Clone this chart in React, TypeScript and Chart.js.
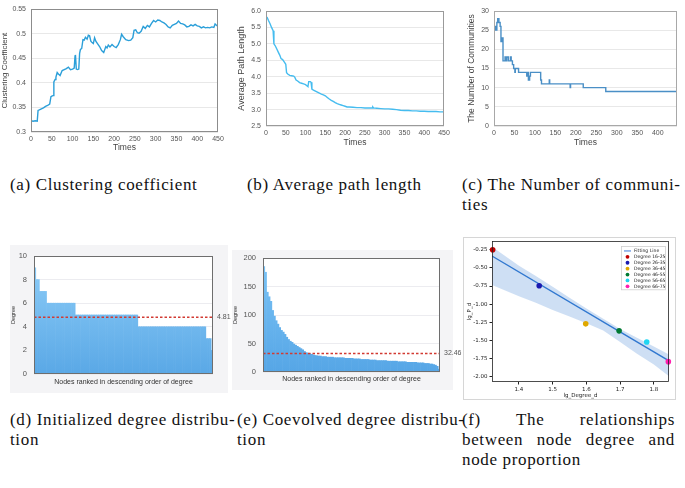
import React, { useEffect, useRef } from "react";
import { Chart, registerables } from "chart.js";
Chart.register(...registerables);

// ---------- DATA ----------
// (a) clustering coefficient
const timesA = [0,5,10,15,17,20,25,30,35,40,45,48,50,53,55,58,60,63,66,70,75,80,85,90,95,100,104,106,107,109,112,115,117,119,122,125,128,131,135,138,141,144,147,150,153,156,160,165,170,175,180,183,186,190,195,200,205,210,215,218,222,228,235,240,245,248,252,256,260,265,270,275,280,285,290,295,300,305,310,315,320,325,330,335,340,345,350,355,360,365,370,375,380,385,390,395,400,405,410,415,420,425,430,435,440,443,447,450];
const clusteringA = [0.323,0.322,0.323,0.322,0.344,0.345,0.347,0.349,0.352,0.354,0.357,0.372,0.373,0.374,0.402,0.407,0.412,0.421,0.418,0.415,0.425,0.427,0.429,0.432,0.427,0.428,0.43,0.455,0.457,0.428,0.427,0.428,0.46,0.468,0.47,0.488,0.487,0.493,0.489,0.497,0.496,0.485,0.482,0.48,0.492,0.485,0.48,0.474,0.466,0.462,0.474,0.471,0.477,0.473,0.478,0.474,0.472,0.478,0.488,0.499,0.494,0.488,0.486,0.487,0.492,0.507,0.508,0.502,0.501,0.505,0.515,0.511,0.517,0.514,0.521,0.527,0.524,0.528,0.527,0.524,0.522,0.519,0.514,0.512,0.517,0.519,0.521,0.526,0.521,0.52,0.518,0.514,0.515,0.518,0.516,0.519,0.516,0.515,0.512,0.514,0.512,0.513,0.512,0.514,0.513,0.52,0.517,0.515];
const yTicksA = [0.3,0.35,0.4,0.45,0.5,0.55];
const yLabelsA = ["0.3","0.35","0.4","0.45","0.5","0.55"];
const xTicksAB = [0,50,100,150,200,250,300,350,400,450];

// (b) average path length
const timesB = [0,3,6,10,14,18,20,23,27,31,35,38,42,46,50,52,55,60,65,70,73,76,80,85,90,95,100,104,106,108,112,114,116,120,125,130,135,140,145,150,155,160,165,170,175,180,185,190,195,200,205,210,220,230,240,250,260,268,270,272,280,290,300,310,320,330,340,350,360,370,380,390,400,410,420,430,440,450];
const pathLengthB = [5.82,5.80,5.72,5.62,5.50,5.40,5.0,4.95,4.85,4.75,4.65,4.55,4.52,4.45,4.38,4.12,4.08,4.04,4.03,4.02,3.98,3.9,3.87,3.82,3.8,3.78,3.76,3.72,3.70,3.85,3.85,3.83,3.62,3.59,3.56,3.53,3.5,3.47,3.45,3.42,3.37,3.32,3.28,3.25,3.21,3.18,3.16,3.14,3.12,3.1,3.08,3.08,3.07,3.06,3.06,3.05,3.05,3.05,3.08,3.05,3.04,3.03,3.02,3.02,3.01,3.0,2.98,2.97,2.97,2.96,2.96,2.95,2.95,2.94,2.94,2.94,2.93,2.93];
const yTicksB = [2.5,3.0,3.5,4.0,4.5,5.0,5.5,6.0];
const yLabelsB = ["2.5","3.0","3.5","4.0","4.5","5.0","5.5","6.0"];

// (c) number of communities (value starting at each time)
const timesC = [0,1,3,5,7,9,12,15,17,19,22,27,29,31,35,40,42,45,48,51,52,60,72,80,82,84,87,89,101,114,116,118,135,136,138,186,187,189,218,219,273,274,447];
const communitiesC = [25,26,25,26,25,27,28,27,26,22,23,17,18,17,18,17,18,17,16,15,14,15,14,14,13,14,12,13,14,14,12,11,11,12,11,11,10,11,11,10,10,9,9];
const yTicksC = [0,5,10,15,20,25,30];
const xTicksC = [0,50,100,150,200,250,300,350,400];

// (d) initialized degree distribution (runs of equal degree, nodes sorted descending)
const degreeLevelsD = [9,8,7,6,5,4,3,2];
const nodeCountsD = [1,2,4,16,35,38,3,1];
const meanD = 4.81;
const yTicksD = [0,2,4,6,8,10];

// (e) coevolved degree distribution (nodes sorted descending)
const degreesE = [185,175,140,132,124,108,98,90,84,78,
  73,70,66,61,57,54,52,49,47,45,
  43,41,39,36,34,33,32,31,30,29,
  28.5,28,28,27,27,27,26,26,26,26,
  25,25,25,25,25,25,24,24,24,24,
  24,23,23,23,23,22,22,22,22,22,
  21,21,21,21,20,20,20,20,20,20,
  19,19,19,19,19,19,18,18,18,18,
  18,17,17,17,17,17,17,16,16,16,
  16,15,15,15,14,14,13,12,10,5];
const meanE = 32.46;
const yTicksE = [0,50,100,150,200];

// (f) lg degree vs lg proportion
const groupLabelsF = ["Degree 16-25","Degree 26-35","Degree 36-45","Degree 46-55","Degree 56-65","Degree 66-75"];
const groupColorsF = ["#c00000","#1a1ab0","#e0a800","#007a33","#1fd6f2","#ff1fb0"];
const lgDegreeF = [1.322,1.460,1.598,1.697,1.779,1.843];
const lgPropF = [-0.25,-0.746,-1.27,-1.366,-1.52,-1.79];
const fitXF = [1.32,1.845];
const fitYF = [-0.337,-1.78];
const bandXF = [1.32,1.40,1.45,1.50,1.55,1.60,1.65,1.70,1.75,1.80,1.845];
const bandUpperF = [-0.21,-0.47,-0.61,-0.76,-0.91,-1.06,-1.20,-1.34,-1.46,-1.58,-1.69];
const bandLowerF = [-0.735,-0.89,-0.98,-1.08,-1.17,-1.26,-1.36,-1.52,-1.68,-1.83,-1.99];
const xTicksF = [1.4,1.5,1.6,1.7,1.8];
const yTicksF = [-0.25,-0.5,-0.75,-1.0,-1.25,-1.5,-1.75,-2.0];
const yLabelsF = ["-0.25","-0.50","-0.75","-1.00","-1.25","-1.50","-1.75","-2.00"];

// ---------- PLUGINS ----------
const framePlugin = {
  id: "frame",
  beforeDraw(chart: any, _a: any, opts: any) {
    const { ctx, chartArea: a } = chart;
    if (opts.plotBg) {
      ctx.save();
      ctx.fillStyle = opts.plotBg;
      ctx.fillRect(a.left, a.top, a.right - a.left, a.bottom - a.top);
      ctx.restore();
    }
  },
  afterDraw(chart: any, _a: any, opts: any) {
    if (!opts.color) return;
    const { ctx, chartArea: a } = chart;
    ctx.save();
    ctx.strokeStyle = opts.color;
    ctx.lineWidth = opts.width || 1;
    ctx.strokeRect(Math.round(a.left) + 0.5, Math.round(a.top) + 0.5, Math.round(a.right - a.left) - 1, Math.round(a.bottom - a.top) - 1);
    ctx.restore();
  },
};

const meanLinePlugin = {
  id: "meanLine",
  afterDatasetsDraw(chart: any, _a: any, opts: any) {
    if (opts.value === undefined) return;
    const { ctx, chartArea: a } = chart;
    const y = chart.scales.y.getPixelForValue(opts.value);
    ctx.save();
    ctx.strokeStyle = "#d23a32";
    ctx.lineWidth = 1.4;
    ctx.setLineDash([2.5, 2]);
    ctx.beginPath();
    ctx.moveTo(a.left, y);
    ctx.lineTo(a.right, y);
    ctx.stroke();
    ctx.setLineDash([]);
    ctx.fillStyle = "#555";
    ctx.font = "7px 'Liberation Sans', Arial, sans-serif";
    ctx.textBaseline = "middle";
    ctx.textAlign = "left";
    ctx.fillText(opts.label, a.right + 4, y);
    ctx.restore();
  },
};

const legendFPlugin = {
  id: "legendF",
  afterDraw(chart: any, _a: any, opts: any) {
    if (!opts.items) return;
    const { ctx, chartArea: a } = chart;
    const items = opts.items;
    const w = 45, lh = 5.9;
    const h = items.length * lh + 3;
    const x0 = a.right - w - 3, y0 = a.top + 5;
    ctx.save();
    ctx.fillStyle = "rgba(255,255,255,0.9)";
    ctx.strokeStyle = "#cfcfcf";
    ctx.lineWidth = 0.8;
    ctx.fillRect(x0, y0, w, h);
    ctx.strokeRect(x0 + 0.5, y0 + 0.5, w - 1, h - 1);
    ctx.font = "4.6px 'DejaVu Sans', sans-serif";
    ctx.textBaseline = "middle";
    ctx.fillStyle = "#222";
    items.forEach((it: any, i: number) => {
      const cy = y0 + 2 + lh * (i + 0.5);
      if (it.kind === "line") {
        ctx.strokeStyle = it.color;
        ctx.lineWidth = 1.2;
        ctx.beginPath();
        ctx.moveTo(x0 + 3, cy);
        ctx.lineTo(x0 + 10, cy);
        ctx.stroke();
      } else {
        ctx.fillStyle = it.color;
        ctx.beginPath();
        ctx.arc(x0 + 6.5, cy, 1.9, 0, Math.PI * 2);
        ctx.fill();
      }
      ctx.fillStyle = "#222";
      ctx.fillText(it.label, x0 + 13, cy);
    });
    ctx.restore();
  },
};

// ---------- HELPERS ----------
const sans = "'Liberation Sans', Arial, Helvetica, sans-serif";
const tickFont = { family: sans, size: 7 };

function fixedTicks(values: number[]) {
  return (s: any) => {
    s.ticks = values.map((v) => ({ value: v }));
  };
}

function barGradient(top: string, bottom: string) {
  return (c: any) => {
    const ch = c.chart;
    const a = ch.chartArea;
    if (!a) return bottom;
    const g = ch.ctx.createLinearGradient(0, a.top, 0, a.bottom);
    g.addColorStop(0, top);
    g.addColorStop(1, bottom);
    return g;
  };
}

function baseOptions(pad: any) {
  return {
    animation: false,
    responsive: false,
    events: [],
    layout: { padding: pad },
  };
}

function timeLineConfig(opts: {
  times: number[]; values: number[]; color: string; yTicks: number[]; yLabels: string[];
  yMin: number; yMax: number; xMax: number; xTicks: number[]; yTitle: string; yTitleSize: number;
  yW: number; xH: number; pad: any; xTitlePad: number; yTitlePad: number; stepped?: any; frame: string; xTickPad: number;
}) {
  return {
    type: "line",
    data: {
      datasets: [
        {
          data: opts.times.map((t, i) => ({ x: t, y: opts.values[i] })),
          borderColor: opts.color,
          borderWidth: 1.4,
          pointRadius: 0,
          tension: 0,
          stepped: opts.stepped || false,
          fill: false,
        },
      ],
    },
    options: {
      ...baseOptions(opts.pad),
      plugins: { legend: { display: false }, tooltip: { enabled: false }, frame: { color: opts.frame } },
      scales: {
        x: {
          type: "linear",
          min: 0,
          max: opts.xMax,
          afterBuildTicks: fixedTicks(opts.xTicks),
          ticks: { font: tickFont, color: "#555", padding: opts.xTickPad, maxRotation: 0, autoSkip: false },
          grid: { display: false, drawTicks: false },
          border: { display: false },
          title: { display: true, text: "Times", font: { family: sans, size: 8.5 }, color: "#444", padding: { top: 0, bottom: opts.xTitlePad } },
          afterFit: (s: any) => { s.height = opts.xH; },
        },
        y: {
          min: opts.yMin,
          max: opts.yMax,
          afterBuildTicks: fixedTicks(opts.yTicks),
          ticks: { font: tickFont, color: "#555", padding: 5, callback: (_v: any, i: number) => opts.yLabels[i] },
          grid: { color: "#e8e8e8", drawTicks: false },
          border: { display: false },
          title: { display: true, text: opts.yTitle, font: { family: sans, size: opts.yTitleSize }, color: "#444", padding: { top: 0, bottom: opts.yTitlePad } },
          afterFit: (s: any) => { s.width = opts.yW; },
        },
      },
    },
    plugins: [framePlugin],
  };
}

const configA = timeLineConfig({
  times: timesA, values: clusteringA, color: "#2b9fd9", yTicks: yTicksA, yLabels: yLabelsA,
  yMin: 0.3, yMax: 0.55, xMax: 450, xTicks: xTicksAB, yTitle: "Clustering Coefficient", yTitleSize: 8,
  yW: 31, xH: 23, pad: { top: 6, right: 10, left: 0, bottom: 0 }, xTitlePad: 2, yTitlePad: 1, frame: "#8c8c8c", xTickPad: 3,
});

const configB = timeLineConfig({
  times: timesB, values: pathLengthB, color: "#45bcef", yTicks: yTicksB, yLabels: yLabelsB,
  yMin: 2.5, yMax: 6.0, xMax: 450, xTicks: xTicksAB, yTitle: "Average Path Length", yTitleSize: 9,
  yW: 30, xH: 29, pad: { top: 11, right: 14, left: 8, bottom: 0 }, xTitlePad: 7, yTitlePad: 1, frame: "#9a9a9a", xTickPad: 3,
});

const configC = timeLineConfig({
  times: timesC, values: communitiesC, color: "#4a8fc6", yTicks: yTicksC, yLabels: yTicksC.map(String),
  yMin: 0, yMax: 30, xMax: 447, xTicks: xTicksC, yTitle: "The Number of Communities", yTitleSize: 8.5,
  yW: 27, xH: 29, pad: { top: 11, right: 8, left: 9, bottom: 0 }, xTitlePad: 7, yTitlePad: 1, stepped: "after", frame: "#a8a8a8", xTickPad: 3,
});

function degreeBarConfig(opts: {
  values: number[]; yMax: number; yTicks: number[]; mean: number; yW: number; xH: number; pad: any; xTitlePad: number; yTitlePad: number;
  top: string; bottom: string;
}) {
  return {
    type: "bar",
    data: {
      labels: opts.values.map((_v, i) => String(i + 1)),
      datasets: [
        {
          data: opts.values,
          backgroundColor: barGradient(opts.top, opts.bottom),
          borderWidth: 0,
          barPercentage: 1,
          categoryPercentage: 1,
        },
      ],
    },
    options: {
      ...baseOptions(opts.pad),
      plugins: {
        legend: { display: false },
        tooltip: { enabled: false },
        frame: { color: "#6e6e6e", plotBg: "#ffffff" },
        meanLine: { value: opts.mean, label: String(opts.mean) },
      },
      scales: {
        x: {
          ticks: { display: false },
          grid: { display: false, drawTicks: false },
          border: { display: false },
          title: { display: true, text: "Nodes ranked in descending order of degree", font: { family: sans, size: 7 }, color: "#333", padding: { top: 0, bottom: opts.xTitlePad } },
          afterFit: (s: any) => { s.height = opts.xH; },
        },
        y: {
          min: 0,
          max: opts.yMax,
          afterBuildTicks: fixedTicks(opts.yTicks),
          ticks: { font: { family: sans, size: 7.5 }, color: "#555", padding: 7 },
          grid: { color: "#ececf0", drawTicks: false },
          border: { display: false },
          title: { display: true, text: "Degree", font: { family: sans, size: 5.5 }, color: "#333", padding: { top: 0, bottom: opts.yTitlePad } },
          afterFit: (s: any) => { s.width = opts.yW; },
        },
      },
    },
    plugins: [framePlugin, meanLinePlugin],
  };
}

const degreesD: number[] = [];
degreeLevelsD.forEach((lvl, i) => {
  for (let k = 0; k < nodeCountsD[i]; k++) degreesD.push(lvl);
});

const configD = degreeBarConfig({
  values: degreesD, yMax: 10, yTicks: yTicksD, mean: meanD, yW: 24, xH: 21,
  pad: { top: 21, right: 27, left: 10, bottom: 0 }, xTitlePad: 9, yTitlePad: 1, top: "#8fcef8", bottom: "#5aa8e6",
});

const configE = degreeBarConfig({
  values: degreesE, yMax: 200, yTicks: yTicksE, mean: meanE, yW: 31, xH: 23,
  pad: { top: 23, right: 30, left: 4, bottom: 0 }, xTitlePad: 12, yTitlePad: 4, top: "#7cc4f6", bottom: "#56a6e6",
});

const configF = {
  type: "line",
  data: {
    datasets: [
      {
        data: bandXF.map((x, i) => ({ x, y: bandUpperF[i] })),
        borderWidth: 0,
        pointRadius: 0,
        fill: false,
        order: 3,
      },
      {
        data: bandXF.map((x, i) => ({ x, y: bandLowerF[i] })),
        borderWidth: 0,
        pointRadius: 0,
        fill: "-1",
        backgroundColor: "rgba(125,170,225,0.38)",
        order: 2,
      },
      {
        data: fitXF.map((x, i) => ({ x, y: fitYF[i] })),
        borderColor: "#3178d0",
        borderWidth: 1.4,
        pointRadius: 0,
        fill: false,
        order: 1,
      },
      {
        data: lgDegreeF.map((x, i) => ({ x, y: lgPropF[i] })),
        showLine: false,
        pointRadius: 2.8,
        pointBorderWidth: 0,
        pointBackgroundColor: groupColorsF,
        clip: false,
        order: 0,
      },
    ],
  },
  options: {
    ...baseOptions({ top: 6, right: 16, left: 6, bottom: 0 }),
    plugins: {
      legend: { display: false },
      tooltip: { enabled: false },
      frame: { color: "#222", width: 0.8 },
      legendF: {
        items: [{ kind: "line", label: "Fitting Line", color: "#5b8fe0" }].concat(
          groupLabelsF.map((l, i) => ({ kind: "dot", label: l, color: groupColorsF[i] }))
        ),
      },
    },
    scales: {
      x: {
        type: "linear",
        min: 1.32,
        max: 1.845,
        afterBuildTicks: fixedTicks(xTicksF),
        ticks: { font: { family: "'DejaVu Sans', sans-serif", size: 5.5 }, color: "#222", padding: 2, maxRotation: 0, callback: (v: any) => Number(v).toFixed(1) },
        grid: { drawOnChartArea: false, drawTicks: true, tickLength: 2.5, color: "#222" },
        border: { display: false },
        title: { display: true, text: "lg_Degree_d", font: { family: "'DejaVu Sans', sans-serif", size: 5.5 }, color: "#222", padding: { top: 0, bottom: 6 } },
        afterFit: (s: any) => { s.height = 23; },
      },
      y: {
        min: -2.07,
        max: -0.13,
        afterBuildTicks: fixedTicks(yTicksF),
        ticks: { font: { family: "'DejaVu Sans', sans-serif", size: 5.5 }, color: "#222", padding: 2, callback: (_v: any, i: number) => yLabelsF[i] },
        grid: { drawOnChartArea: false, drawTicks: true, tickLength: 2.5, color: "#222" },
        border: { display: false },
        title: { display: true, text: "lg_P_d", font: { family: "'DejaVu Sans', sans-serif", size: 5.5 }, color: "#222", padding: { top: 0, bottom: 4 } },
        afterFit: (s: any) => { s.width = 26; },
      },
    },
  },
  plugins: [framePlugin, legendFPlugin],
};

// ---------- COMPONENTS ----------
type Box = { left: number; top: number; width: number; height: number };

function ChartCanvas({ box, config }: { box: Box; config: any }) {
  const ref = useRef<HTMLCanvasElement>(null);
  useEffect(() => {
    const chart = new Chart(ref.current as HTMLCanvasElement, config);
    return () => chart.destroy();
  }, []);
  return (
    <canvas
      ref={ref}
      width={box.width}
      height={box.height}
      style={{ position: "absolute", left: box.left, top: box.top, width: box.width, height: box.height }}
    />
  );
}

const captionStyle: React.CSSProperties = {
  position: "absolute",
  fontFamily: "'Liberation Serif', 'Times New Roman', serif",
  fontSize: 17,
  letterSpacing: "0.65px",
  lineHeight: "20px",
  color: "#111",
  whiteSpace: "nowrap",
};

function JustLine({ text }: { text: string }) {
  return <div style={{ textAlign: "justify", textAlignLast: "justify", whiteSpace: "normal" }}>{text}</div>;
}

export default function App() {
  return (
    <div style={{ position: "absolute", left: 0, top: 0, width: 685, height: 488, background: "#fff", overflow: "hidden" }}>
      {/* panel backgrounds */}
      <div style={{ position: "absolute", left: 10, top: 245, width: 218, height: 148, background: "#f4f4f6" }} />
      <div style={{ position: "absolute", left: 232, top: 250, width: 221, height: 140, background: "#f4f4f6" }} />
      <div style={{ position: "absolute", left: 463, top: 237, width: 213, height: 163, border: "1px solid #d6d6d6", boxSizing: "border-box" }} />

      <ChartCanvas box={{ left: 0, top: 0, width: 228, height: 155 }} config={configA} />
      <ChartCanvas box={{ left: 228, top: 0, width: 230, height: 155 }} config={configB} />
      <ChartCanvas box={{ left: 458, top: 0, width: 227, height: 155 }} config={configC} />
      <ChartCanvas box={{ left: 0, top: 235, width: 240, height: 160 }} config={configD} />
      <ChartCanvas box={{ left: 228, top: 235, width: 242, height: 160 }} config={configE} />
      <ChartCanvas box={{ left: 460, top: 235, width: 225, height: 170 }} config={configF} />

      <div style={{ ...captionStyle, left: 10, top: 175 }}>(a) Clustering coefficient</div>
      <div style={{ ...captionStyle, left: 247, top: 175 }}>(b) Average path length</div>
      <div style={{ ...captionStyle, left: 462, top: 175 }}>(c) The Number of communi-<br />ties</div>
      <div style={{ ...captionStyle, left: 10, top: 410 }}>(d) Initialized degree distribu-<br />tion</div>
      <div style={{ ...captionStyle, left: 237, top: 410 }}>(e) Coevolved degree distribu-<br />tion</div>
      <div style={{ ...captionStyle, left: 462, top: 410, width: 213, whiteSpace: "normal" }}>
        <JustLine text="(f) The relationships" />
        <JustLine text="between node degree and" />
        <div>node proportion</div>
      </div>
    </div>
  );
}
